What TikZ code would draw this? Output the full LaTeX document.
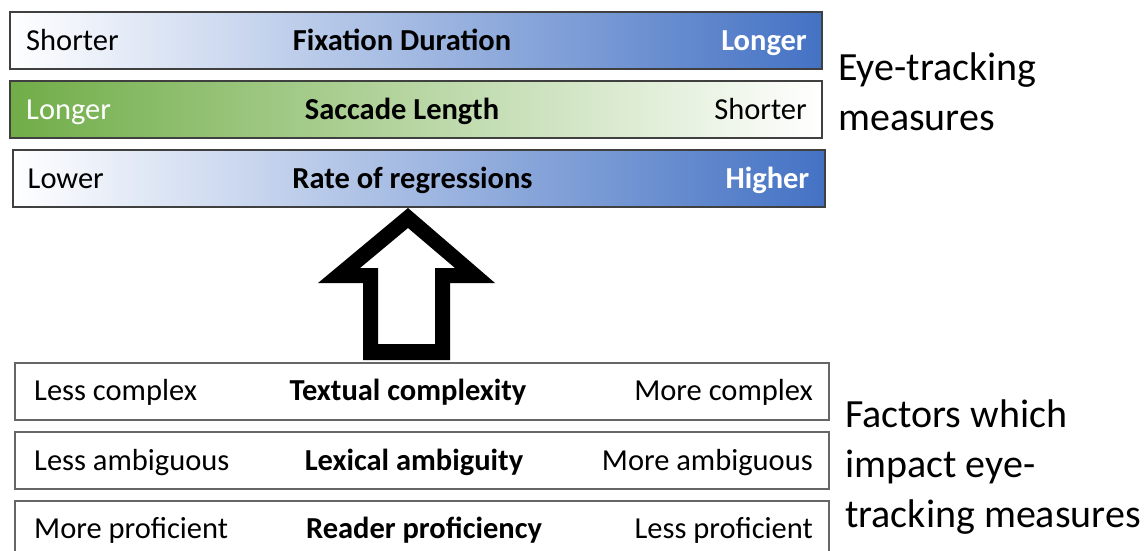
\documentclass[tikz,border=0pt]{standalone}
\usepackage{fontspec}
\setmainfont{Carlito}
\usetikzlibrary{positioning}
\definecolor{barblue}{HTML}{4472C4}
\definecolor{bargreen}{HTML}{70AD47}
\definecolor{barframe}{HTML}{404040}
\definecolor{boxframe}{HTML}{666666}
\tikzstyle{measure} = [draw=barframe, line width=2pt, rectangle,
    minimum width=812pt, minimum height=57pt, inner sep=0pt]
\tikzstyle{bluebar} = [measure, left color=white, right color=barblue]
\tikzstyle{greenbar} = [measure, left color=bargreen, right color=white]
\tikzstyle{factor} = [draw=boxframe, line width=2pt, fill=white, rectangle,
    minimum width=814pt, minimum height=57pt, inner sep=0pt]
\tikzstyle{lab} = [font=\fontsize{30.5}{36}\selectfont, inner sep=0pt,
    text height=21pt, text depth=2pt]
\tikzstyle{title} = [lab, font=\fontsize{30.5}{36}\selectfont\bfseries]
\tikzstyle{side} = [font=\fontsize{40}{50}\selectfont, align=left, inner sep=0pt]

\begin{document}
\begin{tikzpicture}[x=1pt, y=-1pt]
     \clip (0,0) rectangle (1148,551);

     % eye-tracking measures
     \node [bluebar] (fixation) at (416,41) {};
     \node [lab, anchor=west] (fixlow) at ([xshift=17pt]fixation.west) {Shorter};
     \node [title] (fixname) at ([xshift=-14pt]fixation.center) {Fixation Duration};
     \node [title, text=white, anchor=east] (fixhigh) at ([xshift=-16pt]fixation.east) {Longer};

     \node [greenbar] (saccade) at (416,109.5) {};
     \node [lab, text=white, anchor=west] (saclow) at ([xshift=17pt]saccade.west) {Longer};
     \node [title] (sacname) at ([xshift=-14pt]saccade.center) {Saccade Length};
     \node [lab, anchor=east] (sachigh) at ([xshift=-16pt]saccade.east) {Shorter};

     \node [bluebar] (regress) at (418.5,178.5) {};
     \node [lab, anchor=west] (reglow) at ([xshift=16pt]regress.west) {Lower};
     \node [title] (regname) at ([xshift=-6pt]regress.center) {Rate of regressions};
     \node [title, text=white, anchor=east] (reghigh) at ([xshift=-16pt]regress.east) {Higher};

     \node [side, anchor=west] (measures) at (838,92) {Eye-tracking\\measures};

     % factors
     \node [factor] (textual) at (422,391) {};
     \node [lab, anchor=west] (textlow) at ([xshift=20pt]textual.west) {Less complex};
     \node [title] (textname) at ([xshift=-14pt]textual.center) {Textual complexity};
     \node [lab, anchor=east] (texthigh) at ([xshift=-17pt]textual.east) {More complex};

     \node [factor] (lexical) at (422,460.5) {};
     \node [lab, anchor=west] (lexlow) at ([xshift=20pt]lexical.west) {Less ambiguous};
     \node [title] (lexname) at ([xshift=-8pt]lexical.center) {Lexical ambiguity};
     \node [lab, anchor=east] (lexhigh) at ([xshift=-17pt]lexical.east) {More ambiguous};

     \node [factor] (reader) at (422,529) {};
     \node [lab, anchor=west] (readlow) at ([xshift=20pt]reader.west) {More proficient};
     \node [title] (readname) at ([xshift=2pt]reader.center) {Reader proficiency};
     \node [lab, anchor=east] (readhigh) at ([xshift=-17pt]reader.east) {Less proficient};

     \node [side, anchor=west] (factors) at (845,467) {Factors which\\impact eye-\\tracking measures};

     % block arrow
     \fill [black, even odd rule]
         (363,360) -- (450,360) -- (450,283) -- (495,283) -- (408,208)
             -- (318,283) -- (363,283) -- cycle
         (378,344) -- (435,344) -- (435,268) -- (455,268) -- (408,228)
             -- (360,268) -- (378,268) -- cycle;
\end{tikzpicture}
\end{document}
